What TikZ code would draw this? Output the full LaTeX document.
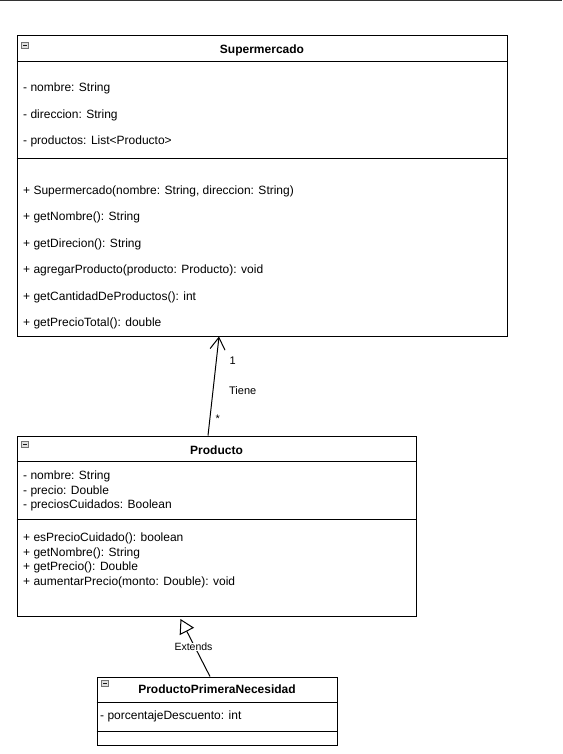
\documentclass[tikz,border=0pt]{standalone}
\usepackage{fontspec}
\setmainfont{Liberation Sans}
\usetikzlibrary{arrows.meta}
\begin{document}
\begin{tikzpicture}[x=1pt,y=-1pt,
  classbox/.style={draw=black, line width=1pt, fill=white, inner sep=0pt},
  sepline/.style={draw=black, line width=1pt},
  member/.style={anchor=base west, inner sep=0pt, font=\fontsize{12}{14}\selectfont},
  classtitle/.style={anchor=base, inner sep=0pt, font=\fontsize{12}{14}\selectfont\bfseries},
  edgelabel/.style={inner sep=0.5pt, font=\fontsize{11}{13}\selectfont},
  foldicon/.style={draw=black!55, fill=black!12, line width=0.7pt, minimum size=6.5pt, inner sep=0pt,
    path picture={\draw[line width=1.1pt, black!90]
      ([xshift=1.4pt]path picture bounding box.west) -- ([xshift=-1.4pt]path picture bounding box.east);}},
  assoc/.style={draw=black, line width=1pt, -{Straight Barb[length=12pt, width=15pt, line width=1pt]}},
  inherit/.style={draw=black, line width=1pt, -{Triangle[open, length=14pt, width=16pt, line width=1pt, fill=white]}}
]
\useasboundingbox (0,0) rectangle (562,754);

% rule across the top of the page
\draw[line width=1.3pt, black!80] (0,0.6) -- (562,0.6);

% ---------- Supermercado ----------
\node[classbox, minimum width=490pt, minimum height=300pt] (super) at (262,186) {};
\draw[sepline] ([yshift=-26pt]super.north west) -- ([yshift=-26pt]super.north east);
\draw[sepline] ([yshift=-123pt]super.north west) -- ([yshift=-123pt]super.north east);
\node[foldicon] (superfold) at (25,45.3) {};
\node[classtitle] (supertitle) at (262,53.3) {Supermercado};
\node[member] (sa1) at (23,92)  {- nombre: String};
\node[member] (sa2) at (23,118.5) {- direccion: String};
\node[member] (sa3) at (23,145) {- productos: List<Producto>};
\node[member] (sm1) at (23,194.5) {+ Supermercado(nombre: String, direccion: String)};
\node[member] (sm2) at (23,220.5) {+ getNombre(): String};
\node[member] (sm3) at (23,247) {+ getDirecion(): String};
\node[member] (sm4) at (23,273.5) {+ agregarProducto(producto: Producto): void};
\node[member] (sm5) at (23,300) {+ getCantidadDeProductos(): int};
\node[member] (sm6) at (23,326.5) {+ getPrecioTotal(): double};

% ---------- Producto ----------
\node[classbox, minimum width=399pt, minimum height=180pt] (prod) at (216.5,526) {};
\draw[sepline] ([yshift=-26pt]prod.north west) -- ([yshift=-26pt]prod.north east);
\draw[sepline] ([yshift=-84pt]prod.north west) -- ([yshift=-84pt]prod.north east);
\node[foldicon] (prodfold) at (25,444.3) {};
\node[classtitle] (prodtitle) at (216.5,454) {Producto};
\node[member] (pa1) at (23,479.5) {- nombre: String};
\node[member] (pa2) at (23,494) {- precio: Double};
\node[member] (pa3) at (23,508.5) {- preciosCuidados: Boolean};
\node[member] (pm1) at (23,541.7) {+ esPrecioCuidado(): boolean};
\node[member] (pm2) at (23,556) {+ getNombre(): String};
\node[member] (pm3) at (23,570.5) {+ getPrecio(): Double};
\node[member] (pm4) at (23,585) {+ aumentarPrecio(monto: Double): void};

% ---------- ProductoPrimeraNecesidad ----------
\node[classbox, minimum width=240pt, minimum height=68pt] (ppn) at (217,711) {};
\draw[sepline] ([yshift=-26pt]ppn.north west) -- ([yshift=-26pt]ppn.north east);
\draw[sepline] ([yshift=-55pt]ppn.north west) -- ([yshift=-55pt]ppn.north east);
\node[foldicon] (ppnfold) at (105,683.5) {};
\node[classtitle] (ppntitle) at (217,693.3) {ProductoPrimeraNecesidad};
\node[member] (ppna1) at (100,719.3) {- porcentajeDescuento: int};

% ---------- association: Producto -> Supermercado ----------
\draw[assoc] ([xshift=-8.5pt]prod.north) -- ([xshift=-43pt]super.south);
\node[edgelabel] (mult1) at (232.7,360.5) {1};
\node[edgelabel] (tiene) at (242.7,390.5) {Tiene};
\node[edgelabel] (multmany) at (217.7,419) {*};

% ---------- generalisation: ProductoPrimeraNecesidad -> Producto ----------
\coordinate (gentip) at (180.5,619);
\draw[inherit] ([xshift=-7pt]ppn.north) -- (gentip);
\node[edgelabel, fill=white, font=\fontsize{10.5}{12}\selectfont] (extends) at (193.5,647) {Extends};
\end{tikzpicture}
\end{document}
